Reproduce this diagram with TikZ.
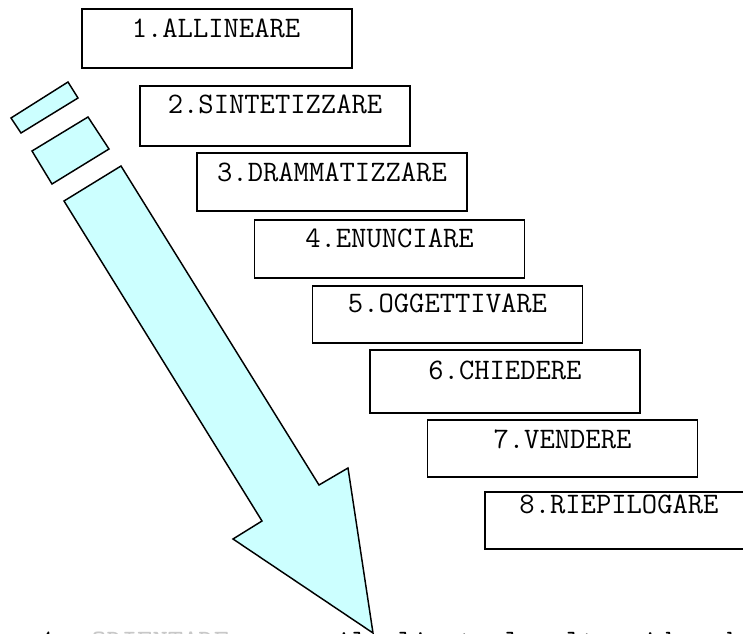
\documentclass[tikz,border=0pt]{standalone}
\usepackage{fontspec}
\definecolor{arrowcyan}{HTML}{CCFFFF}
\definecolor{fadedtext}{HTML}{C8C8C8}
\begin{document}
\begin{tikzpicture}[x=0.75pt,y=-0.75pt,
  stepbox/.style={draw=black, line width=1.1pt, fill=white, rectangle,
    inner sep=0pt, minimum width=202.5pt},
  steplabel/.style={font=\ttfamily\fontsize{22.3pt}{26pt}\selectfont,
    inner sep=0pt, text height=0.611em, text depth=0pt},
  notetext/.style={font=\ttfamily\fontsize{22.3pt}{26pt}\selectfont,
    inner sep=0pt, anchor=base west},
  blockarrow/.style={draw=black, line width=1.1pt, fill=arrowcyan,
    line join=miter}]
\useasboundingbox (0,0) rectangle (743,634);
\clip (0,0) rectangle (743,634);

% the eight steps, stepping down to the right
\node[stepbox, minimum height=44.25pt] (s1) at (217,38.5)  {};
\node[stepbox, minimum height=45pt]    (s2) at (275,116)   {};
\node[stepbox, minimum height=43.5pt]  (s3) at (332,182)   {};
\node[stepbox, minimum height=43.5pt]  (s4) at (389.5,249) {};
\node[stepbox, minimum height=42.75pt] (s5) at (447.5,314.5) {};
\node[stepbox, minimum height=47.25pt] (s6) at (505,381.5) {};
\node[stepbox, minimum height=42.75pt] (s7) at (562.5,448.5) {};
\node[stepbox, minimum height=42.75pt] (s8) at (620,520.5) {};

\node[steplabel] (t1) at (216,33)  {1.ALLINEARE};
\node[steplabel] (t2) at (275,109) {2.SINTETIZZARE};
\node[steplabel] (t3) at (332,177) {3.DRAMMATIZZARE};
\node[steplabel] (t4) at (389.5,243) {4.ENUNCIARE};
\node[steplabel] (t5) at (447.5,308) {5.OGGETTIVARE};
\node[steplabel] (t6) at (505,375) {6.CHIEDERE};
\node[steplabel] (t7) at (562.5,444) {7.VENDERE};
\node[steplabel] (t8) at (619,509) {8.RIEPILOGARE};

% text line running off the bottom edge
\node[notetext] (note) at (40,650)
  {1. \textcolor{fadedtext}{ORIENTARE} verso il cliente le altre idee della};

% broken tail of the block arrow
\path[blockarrow] (11,118) -- (68,82) -- (78,98) -- (21,133) -- cycle;
\path[blockarrow] (32,151) -- (88,117) -- (109,149) -- (52,184) -- cycle;

% block arrow pointing down to the right
\path[blockarrow] (64,201) -- (121,166) -- (319,485) -- (348,468)
  -- (373,633) -- (233,539) -- (262,521) -- cycle;
\end{tikzpicture}
\end{document}
